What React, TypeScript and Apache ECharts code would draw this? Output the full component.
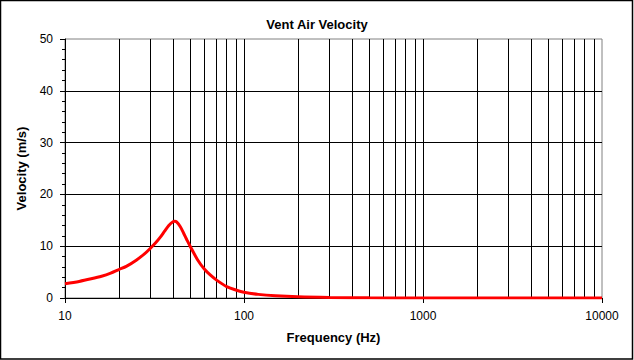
import React, { useEffect, useRef } from "react";
import * as echarts from "echarts";

const frequencies = [10, 12, 14, 16, 18, 20, 22, 25, 28, 30, 32, 34, 36, 38, 40, 41, 42, 44, 46, 48, 50, 55, 60, 65, 70, 80, 90, 100, 120, 150, 200, 300, 500, 1000, 2000, 5000, 10000];
const velocities = [2.75, 3.2, 3.7, 4.2, 4.8, 5.5, 6.1, 7.3, 8.6, 9.6, 10.6, 11.7, 12.9, 14.0, 14.7, 14.8, 14.7, 13.8, 12.5, 11.2, 10.0, 7.4, 5.6, 4.4, 3.5, 2.2, 1.55, 1.1, 0.7, 0.42, 0.22, 0.1, 0.04, 0.01, 0.003, 0.001, 0];
const gridFrequencies = [20, 30, 40, 50, 60, 70, 80, 90, 100, 200, 300, 400, 500, 600, 700, 800, 900, 1000, 2000, 3000, 4000, 5000, 6000, 7000, 8000, 9000];

const FONT = "Liberation Sans, Arial, sans-serif";

export default function App() {
  const ref = useRef<HTMLDivElement>(null);
  useEffect(() => {
    if (!ref.current) return;
    const chart = echarts.init(ref.current, null, { renderer: "svg" });
    chart.setOption({
      animation: false,
      backgroundColor: "#ffffff",
      title: {
        text: "Vent Air Velocity",
        left: "center",
        top: 13,
        textStyle: { fontFamily: FONT, fontSize: 13, fontWeight: "bold", color: "#000" },
      },
      graphic: [
        {
          type: "rect",
          shape: { x: 0.5, y: 0.5, width: 632, height: 358.5 },
          style: { fill: "none", stroke: "#000", lineWidth: 1.5 },
          silent: true,
          z: 100,
        },
      ],
      grid: {
        left: 65,
        right: 32,
        top: 39,
        bottom: 62,
        show: true,
        borderColor: "#808080",
        borderWidth: 1,
      },
      xAxis: {
        type: "log",
        logBase: 10,
        min: 10,
        max: 10000,
        name: "Frequency (Hz)",
        nameLocation: "middle",
        nameGap: 33,
        nameTextStyle: { fontFamily: FONT, fontSize: 13, fontWeight: "bold", color: "#000" },
        axisLine: { show: true, lineStyle: { color: "#000", width: 1 } },
        axisTick: { show: true, length: 5, inside: false, lineStyle: { color: "#000" } },
        axisLabel: {
          margin: 12,
          fontFamily: FONT,
          fontSize: 12,
          color: "#000",
          formatter: (v: number) => String(Math.round(v)),
        },
        splitLine: { show: false },
        minorTick: { show: false },
      },
      yAxis: {
        type: "value",
        min: 0,
        max: 50,
        interval: 10,
        name: "Velocity (m/s)",
        nameLocation: "middle",
        nameGap: 37,
        nameTextStyle: { fontFamily: FONT, fontSize: 13, fontWeight: "bold", color: "#000" },
        axisLine: { show: true, lineStyle: { color: "#000", width: 1 } },
        axisTick: { show: true, length: 5, inside: false, lineStyle: { color: "#000" } },
        minorTick: { show: true, splitNumber: 5, length: 3, lineStyle: { color: "#000" } },
        axisLabel: { margin: 12, fontFamily: FONT, fontSize: 12, color: "#000" },
        splitLine: { show: true, showMinLine: false, showMaxLine: false, lineStyle: { color: "#000", width: 1 } },
      },
      series: [
        {
          type: "line",
          data: frequencies.map((f, i) => [f, velocities[i]]),
          showSymbol: false,
          symbol: "none",
          smooth: 0.3,
          lineStyle: { color: "#ff0000", width: 3 },
          z: 5,
          markLine: {
            silent: true,
            symbol: ["none", "none"],
            label: { show: false },
            lineStyle: { color: "#000", width: 1, type: "solid" },
            data: gridFrequencies.map((f) => ({ xAxis: f })),
            z: 1,
          },
        },
      ],
    });
    return () => chart.dispose();
  }, []);
  return (
    <div
      ref={ref}
      style={{ position: "fixed", left: 0, top: 0, width: 634, height: 360 }}
    />
  );
}
